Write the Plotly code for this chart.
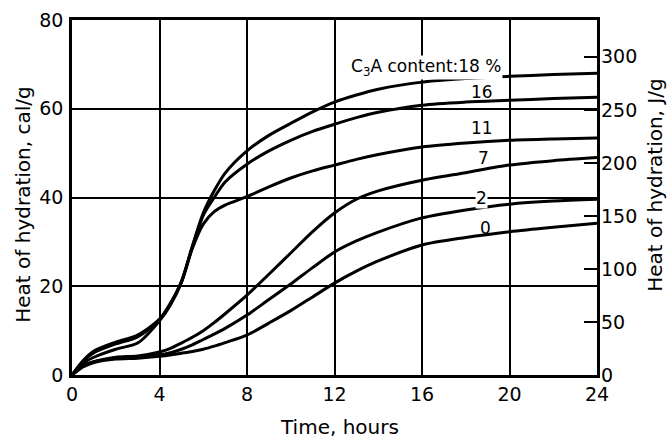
import plotly.graph_objects as go

# Heat of hydration (cal/g) versus time for cements of varying C3A content
t_hours = [0, 0.5, 1, 2, 3, 4, 4.5, 5, 5.5, 6, 6.5, 7, 8, 9, 10, 11, 12, 13, 14, 16, 18, 20, 22, 24]

c3a_18 = [0, 3.2, 5.4, 7.4, 9.0, 12.6, 16.2, 21.0, 29.0, 36.5, 41.5, 45.5, 50.5, 54.0, 56.7, 59.3, 61.5, 63.1, 64.4, 66.0, 66.8, 67.3, 67.7, 68.0]
c3a_16 = [0, 3.0, 5.0, 7.0, 8.6, 12.4, 16.0, 21.0, 28.8, 36.0, 40.0, 43.5, 47.5, 50.5, 52.9, 54.9, 56.5, 58.0, 59.2, 60.8, 61.5, 61.9, 62.3, 62.6]
c3a_11 = [0, 2.6, 4.0, 5.8, 7.2, 12.2, 15.8, 20.8, 28.5, 34.0, 36.8, 38.3, 40.2, 42.4, 44.4, 46.0, 47.3, 48.6, 49.7, 51.4, 52.3, 52.9, 53.2, 53.4]
c3a_7 = [0, 2.0, 3.0, 4.0, 4.3, 5.2, 6.0, 7.2, 8.5, 10.0, 11.8, 13.8, 18.0, 22.7, 27.5, 32.3, 36.5, 39.6, 41.5, 43.9, 45.6, 47.3, 48.3, 49.0]
c3a_2 = [0, 2.0, 3.0, 3.8, 4.0, 4.5, 5.0, 5.8, 6.8, 8.0, 9.2, 10.5, 13.5, 17.0, 20.5, 24.2, 27.7, 30.2, 32.2, 35.4, 37.2, 38.5, 39.2, 39.6]
c3a_0 = [0, 1.8, 2.8, 3.6, 3.8, 4.2, 4.5, 4.9, 5.3, 5.8, 6.5, 7.3, 9.0, 11.7, 14.5, 17.6, 20.7, 23.4, 25.7, 29.3, 31.0, 32.3, 33.3, 34.2]

series = [c3a_18, c3a_16, c3a_11, c3a_7, c3a_2, c3a_0]

# curve labels: text, time, heat (cal/g), white backing
curve_labels = [
    ("C<sub>3</sub>A content:18 %", 16.2, 69.2, True),
    ("16", 18.74, 63.8, False),
    ("11", 18.74, 55.7, False),
    ("7", 18.83, 48.9, False),
    ("2", 18.74, 39.9, True),
    ("0", 18.88, 33.1, False),
]

x_ticks = [0, 4, 8, 12, 16, 20, 24]
y_ticks_cal = [0, 20, 40, 60, 80]
y_ticks_joule = [0, 50, 100, 150, 200, 250, 300]
CAL_TO_J = 4.184

FONT = "DejaVu Sans"

fig = go.Figure()
for vals in series:
    fig.add_trace(go.Scatter(
        x=t_hours, y=vals, mode="lines",
        line=dict(color="black", width=3, shape="spline", smoothing=0.8),
        showlegend=False, hoverinfo="skip",
    ))

# invisible trace so the J/g axis is drawn
fig.add_trace(go.Scatter(x=[0, 24], y=[0, 0], yaxis="y2", mode="lines",
                         line=dict(width=0), opacity=0, showlegend=False,
                         hoverinfo="skip"))

for text, tx, ty, bg in curve_labels:
    fig.add_annotation(
        x=tx, y=ty, text=text, showarrow=False,
        font=dict(family=FONT, size=17, color="black"),
        bgcolor="white" if bg else "rgba(0,0,0,0)", borderpad=0,
    )

# axis titles
fig.add_annotation(
    xref="paper", yref="paper", x=-0.095, y=0.48, text="Heat of hydration, cal/g",
    textangle=-90, showarrow=False, xanchor="center", yanchor="middle",
    font=dict(family=FONT, size=20, color="black"),
)
fig.add_annotation(
    xref="paper", yref="paper", x=1.11, y=0.535, text="Heat of hydration, J/g",
    textangle=-90, showarrow=False, xanchor="center", yanchor="middle",
    font=dict(family=FONT, size=20, color="black"),
)
fig.add_annotation(
    xref="paper", yref="paper", x=0.51, y=-0.147, text="Time, hours",
    showarrow=False, xanchor="center", yanchor="middle",
    font=dict(family=FONT, size=20, color="black"),
)

fig.update_layout(
    width=670, height=441,
    margin=dict(l=72, r=73, t=20, b=66, autoexpand=False),
    paper_bgcolor="white", plot_bgcolor="white",
    font=dict(family=FONT, size=19, color="black"),
    xaxis=dict(
        range=[0, 24], tickvals=x_ticks, ticks="", showgrid=True,
        gridcolor="black", gridwidth=1.5, showline=True, linecolor="black",
        linewidth=2.5, mirror=True, zeroline=False,
    ),
    yaxis=dict(
        range=[0, 80], tickvals=y_ticks_cal, ticks="", showgrid=True,
        gridcolor="black", gridwidth=1.5, showline=True, linecolor="black",
        linewidth=2.5, mirror=True, zeroline=False, ticklabelstandoff=2,
    ),
    yaxis2=dict(
        range=[0, 80 * CAL_TO_J], tickvals=y_ticks_joule, overlaying="y",
        side="right", anchor="x", ticks="inside", ticklen=13, tickwidth=2,
        tickcolor="black", showgrid=False, showline=False, zeroline=False,
        ticklabelstandoff=3,
    ),
)

fig.write_html("out.html")
